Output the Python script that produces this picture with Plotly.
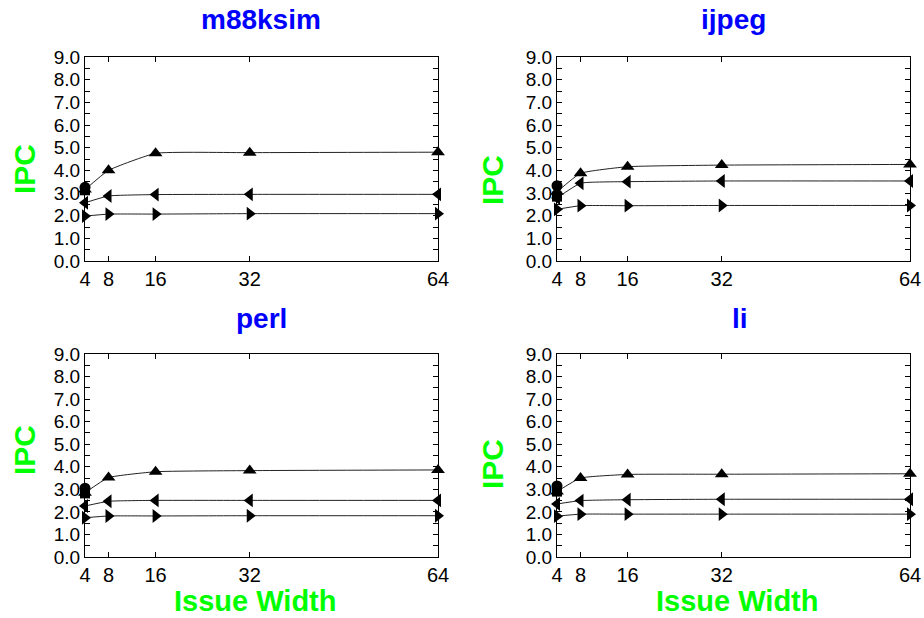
import plotly.graph_objects as go

W, H = 924, 618

issue_width = [4, 8, 16, 32, 64]
benchmarks = ["m88ksim", "ijpeg", "perl", "li"]

# IPC values per benchmark and series
up_tri = {
    "m88ksim": [3.15, 4.0, 4.75, 4.78, 4.8],
    "ijpeg":   [3.05, 3.87, 4.16, 4.23, 4.26],
    "perl":    [2.85, 3.52, 3.78, 3.83, 3.86],
    "li":      [2.9, 3.5, 3.66, 3.67, 3.69],
}
left_tri = {
    "m88ksim": [2.57, 2.87, 2.93, 2.94, 2.94],
    "ijpeg":   [2.78, 3.43, 3.5, 3.53, 3.53],
    "perl":    [2.26, 2.47, 2.51, 2.51, 2.51],
    "li":      [2.35, 2.5, 2.54, 2.56, 2.56],
}
right_tri = {
    "m88ksim": [1.98, 2.07, 2.07, 2.09, 2.09],
    "ijpeg":   [2.28, 2.44, 2.44, 2.45, 2.45],
    "perl":    [1.74, 1.82, 1.82, 1.83, 1.83],
    "li":      [1.81, 1.9, 1.9, 1.9, 1.9],
}
circle_at4 = {"m88ksim": 3.25, "ijpeg": 3.32, "perl": 3.05, "li": 3.15}
square_at4 = {"m88ksim": 3.12, "ijpeg": 2.84, "perl": 2.82, "li": 2.9}

y_ticks = [i * 0.5 for i in range(19)]
y_text = [f"{v:.1f}" if v == int(v) else "" for v in y_ticks]
x_ticks = [4, 8, 16, 32, 64]

FONT = "Arial, Liberation Sans, sans-serif"


def px(x):
    return x / W


def py(y):
    return 1 - y / H


# panel geometry in window pixels (left, right, top, bottom)
panels = {
    "m88ksim": (85, 438, 57, 261),
    "ijpeg":   (557, 910, 57, 261),
    "perl":    (85, 438, 354, 557),
    "li":      (557, 910, 354, 557),
}

fig = go.Figure()
layout = {}
for i, b in enumerate(benchmarks):
    n = "" if i == 0 else str(i + 1)
    xa, ya = "x" + n, "y" + n
    l, r, t, bt = panels[b]
    layout["xaxis" + n] = dict(
        domain=[px(l), px(r)], range=[4, 64], anchor=ya, automargin=False,
        tickvals=x_ticks, ticktext=[str(v) for v in x_ticks],
        ticks="inside", ticklen=5, tickcolor="black",
        showline=True, linecolor="black", linewidth=1, mirror="allticks",
        showgrid=False, zeroline=False,
        tickfont=dict(family=FONT, size=20, color="black"),
    )
    layout["yaxis" + n] = dict(
        domain=[py(bt), py(t)], range=[0, 9], anchor=xa, automargin=False,
        tickvals=y_ticks, ticktext=y_text,
        ticks="inside", ticklen=5, tickcolor="black",
        showline=True, linecolor="black", linewidth=1, mirror="allticks",
        showgrid=False, zeroline=False,
        tickfont=dict(family=FONT, size=19, color="black"),
    )
    for vals, sym in [(up_tri[b], "triangle-up"), (left_tri[b], "triangle-left"),
                      (right_tri[b], "triangle-right")]:
        fig.add_trace(go.Scatter(
            x=issue_width, y=vals, xaxis=xa, yaxis=ya, mode="lines+markers",
            line=dict(color="#222", width=1, shape="spline", smoothing=0.4),
            marker=dict(symbol=sym, size=12, color="black"),
            cliponaxis=False, showlegend=False))
    fig.add_trace(go.Scatter(
        x=[4], y=[square_at4[b]], xaxis=xa, yaxis=ya, mode="markers",
        marker=dict(symbol="square", size=10, color="black"),
        cliponaxis=False, showlegend=False))
    fig.add_trace(go.Scatter(
        x=[4], y=[circle_at4[b]], xaxis=xa, yaxis=ya, mode="markers",
        marker=dict(symbol="circle", size=11, color="black"),
        cliponaxis=False, showlegend=False))

annotations = []
title_pos = {"m88ksim": (261, 19), "ijpeg": (733, 19), "perl": (261, 318), "li": (740, 318)}
for b, (x, y) in title_pos.items():
    annotations.append(dict(text="<b>%s</b>" % b, x=px(x), y=py(y), xref="paper", yref="paper",
                            showarrow=False, xanchor="center", yanchor="middle",
                            font=dict(family=FONT, size=28, color="#0000ff")))
for x, y in [(24, 169), (492, 180), (24, 450), (492, 464)]:
    annotations.append(dict(text="<b>IPC</b>", x=px(x), y=py(y), xref="paper", yref="paper",
                            showarrow=False, xanchor="center", yanchor="middle", textangle=-90,
                            font=dict(family=FONT, size=30, color="#00ff00")))
for x in [255, 737]:
    annotations.append(dict(text="<b>Issue Width</b>", x=px(x), y=py(601), xref="paper", yref="paper",
                            showarrow=False, xanchor="center", yanchor="middle",
                            font=dict(family=FONT, size=29, color="#00ff00")))

fig.update_layout(
    width=W, height=H, margin=dict(l=0, r=0, t=0, b=0),
    paper_bgcolor="white", plot_bgcolor="white", hovermode=False,
    annotations=annotations, **layout)

fig.write_html("out.html", config={"displayModeBar": False, "staticPlot": True},
               post_script="document.body.style.margin='0';document.body.style.overflow='hidden';")
